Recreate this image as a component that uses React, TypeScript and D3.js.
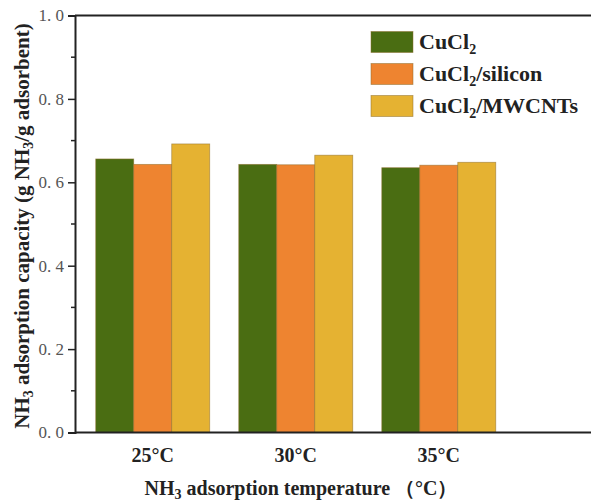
import React, { useEffect, useRef } from 'react';
import * as d3 from 'd3';

const categories = ['25°C', '30°C', '35°C'];
const seriesNames = ['CuCl2', 'CuCl2/silicon', 'CuCl2/MWCNTs'];
const cucl2 = [0.656, 0.643, 0.635];
const cucl2Silicon = [0.643, 0.642, 0.641];
const cucl2Mwcnts = [0.692, 0.665, 0.648];
const yTicks = [0, 0.2, 0.4, 0.6, 0.8, 1.0];
const yMinorTicks = [0.1, 0.3, 0.5, 0.7, 0.9];
const colors = ['#4a6d12', '#ee8430', '#e5b232'];

const width = 591;
const height = 502;
const left = 75;
const top = 15.5;
const bottom = 432.5;
const serif = "'Times New Roman', 'Liberation Serif', 'DejaVu Serif', serif";

export default function App() {
    const ref = useRef<SVGSVGElement>(null);

    useEffect(() => {
        if (!ref.current) return;
        const svg = d3.select(ref.current);
        svg.selectAll('*').remove();

        const series = [cucl2, cucl2Silicon, cucl2Mwcnts];

        const x = d3.scaleBand<string>()
            .domain(categories)
            .range([left, 516.5])
            .paddingInner(0.203)
            .paddingOuter(0.145);
        const xInner = d3.scaleBand<number>()
            .domain([0, 1, 2])
            .range([0, x.bandwidth()]);
        const y = d3.scaleLinear().domain([0, 1]).range([bottom, top]);

        // bars
        series.forEach((vals, si) => {
            svg.append('g')
                .selectAll('rect')
                .data(vals)
                .enter()
                .append('rect')
                .attr('x', (d, i) => (x(categories[i]) as number) + (xInner(si) as number))
                .attr('width', xInner.bandwidth())
                .attr('y', d => y(d))
                .attr('height', d => y(0) - y(d))
                .style('fill', colors[si])
                .style('stroke', '#8a6a2a')
                .style('stroke-opacity', 0.6)
                .style('stroke-width', 0.8);
        });

        // axes frame
        svg.append('line')
            .attr('x1', left).attr('x2', width)
            .attr('y1', top).attr('y2', top)
            .style('stroke', '#222').style('stroke-width', 2);
        svg.append('line')
            .attr('x1', left).attr('x2', width)
            .attr('y1', bottom).attr('y2', bottom)
            .style('stroke', '#222').style('stroke-width', 2);

        const axisY = d3.axisLeft(y)
            .tickValues(yTicks)
            .tickSize(7)
            .tickPadding(4)
            .tickFormat(d => d3.format('.1f')(d as number).replace('.', '. '));
        const gy = svg.append('g')
            .attr('transform', `translate(${left},0)`)
            .call(axisY);
        gy.select('.domain').style('stroke', '#222').style('stroke-width', 2);
        gy.selectAll('.tick line').style('stroke', '#222').style('stroke-width', 1.5);
        gy.selectAll('.tick text')
            .style('font-family', serif)
            .style('font-size', '17px')
            .style('white-space', 'pre')
            .style('fill', '#555');

        svg.append('g')
            .selectAll('line')
            .data(yMinorTicks)
            .enter()
            .append('line')
            .attr('x1', left - 4).attr('x2', left)
            .attr('y1', d => y(d)).attr('y2', d => y(d))
            .style('stroke', '#222').style('stroke-width', 1.5);

        // category labels
        svg.append('g')
            .selectAll('text')
            .data(categories)
            .enter()
            .append('text')
            .attr('x', d => (x(d) as number) + x.bandwidth() / 2)
            .attr('y', 462)
            .attr('text-anchor', 'middle')
            .style('font-family', serif)
            .style('font-weight', 'bold')
            .style('font-size', '20px')
            .style('fill', '#222')
            .text(d => d);

        // x title
        const xt = svg.append('text')
            .attr('x', 301)
            .attr('y', 495)
            .attr('text-anchor', 'middle')
            .style('font-family', serif)
            .style('font-weight', 'bold')
            .style('font-size', '20px')
            .style('fill', '#222');
        xt.append('tspan').text('NH');
        xt.append('tspan').attr('dy', 4).style('font-size', '14px').text('3');
        xt.append('tspan').attr('dy', -4).text(' adsorption temperature （°C）');

        // y title
        const yt = svg.append('text')
            .attr('transform', 'translate(29,226) rotate(-90)')
            .attr('text-anchor', 'middle')
            .style('font-family', serif)
            .style('font-weight', 'bold')
            .style('font-size', '21px')
            .style('fill', '#222');
        yt.append('tspan').text('NH');
        yt.append('tspan').attr('dy', 4).style('font-size', '14px').text('3');
        yt.append('tspan').attr('dy', -4).text(' adsorption capacity (g NH');
        yt.append('tspan').attr('dy', 4).style('font-size', '14px').text('3');
        yt.append('tspan').attr('dy', -4).text('/g adsorbent)');

        // legend
        const legend = svg.append('g');
        seriesNames.forEach((name, i) => {
            const ly = 31.5 + i * 32;
            legend.append('rect')
                .attr('x', 371).attr('y', ly)
                .attr('width', 42).attr('height', 21)
                .style('fill', colors[i])
                .style('stroke', '#8a6a2a')
                .style('stroke-opacity', 0.6)
                .style('stroke-width', 0.8);
            const t = legend.append('text')
                .attr('x', 419).attr('y', ly + 17)
                .style('font-family', serif)
                .style('font-weight', 'bold')
                .style('font-size', '22px')
                .style('fill', '#222');
            const parts = name.split('2');
            t.append('tspan').text(parts[0]);
            t.append('tspan').attr('dy', 5).style('font-size', '14px').text('2');
            if (parts[1]) t.append('tspan').attr('dy', -5).text(parts[1]);
        });
    }, []);

    return (
        <svg
            ref={ref}
            width={width}
            height={height}
            style={{ position: 'absolute', left: 0, top: 0, background: '#fff' }}
        />
    );
}
